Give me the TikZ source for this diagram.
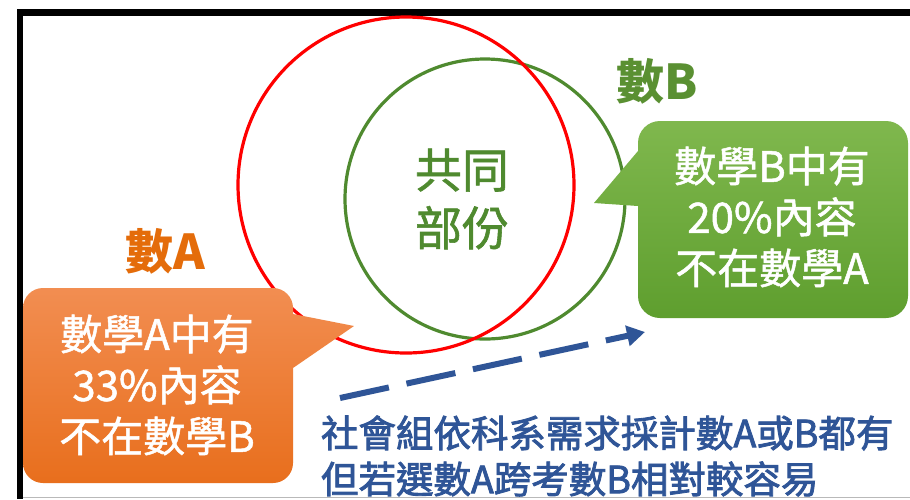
\documentclass[tikz,border=0pt]{standalone}
\usepackage{fontspec}
\newfontfamily\cjk{Noto Sans CJK TC}
\newfontfamily\cjkmed[FakeBold=1.2]{Noto Sans CJK TC}
\newfontfamily\cjksemi[FakeBold=2.2]{Noto Sans CJK TC}
\usetikzlibrary{arrows.meta}
\definecolor{redc}{HTML}{FF0000}
\definecolor{greenc}{HTML}{4F8A2F}
\definecolor{grnlbl}{HTML}{5A9032}
\definecolor{orglbl}{HTML}{E46C0A}
\definecolor{orgtop}{HTML}{F28E52}
\definecolor{orgbot}{HTML}{E86E1C}
\definecolor{grntop}{HTML}{80B84E}
\definecolor{grnbot}{HTML}{5E9E2E}
\definecolor{bluec}{HTML}{2F5597}
\tikzset{
  ring/.style={circle, draw, line width=3.2pt, inner sep=0pt},
  calltext/.style={font=\cjkmed\fontsize{42}{51}\selectfont, text=white, align=center},
  biglabel/.style={font=\cjk\bfseries\fontsize{48}{48}\selectfont},
}
\begin{document}
\begin{tikzpicture}[x=1pt,y=-1pt, every node/.style={inner sep=0pt, outer sep=0pt}]
\useasboundingbox (0,0) rectangle (910,499);
\fill[white] (0,0) rectangle (910,499);
% frame
\fill[black] (17,9) rectangle (910,16);
\fill[black] (17,9) rectangle (23,499);
\draw[gray!55, line width=1pt] (23,497.5) -- (910,497.5);

% circles
\node[ring, draw=greenc, minimum size=280pt] (cB) at (485,199) {};
\node[ring, draw=redc, minimum size=336pt] (cA) at (406,185) {};

% orange callout
\begin{scope}
\path[clip] [rounded corners=20pt] (23,288) rectangle (293,483) [sharp corners] (293,314) -- (354,326) -- (293,368) -- cycle;
\shade[top color=orgtop, bottom color=orgbot] (20,285) rectangle (356,486);
\end{scope}
% green callout
\begin{scope}
\path[clip] [rounded corners=22pt] (638,121) rectangle (908,318) [sharp corners] (638,151) -- (594,203) -- (638,206) -- cycle;
\shade[top color=grntop, bottom color=grnbot] (592,118) rectangle (910,320);
\end{scope}

% texts
\node[calltext] (ta) at (157,385) {數學A中有\\33\%內容\\不在數學B};
\node[calltext] (tb) at (772,217) {數學B中有\\20\%內容\\不在數學A};
\node[font=\cjkmed\fontsize{47}{58}\selectfont, text=greenc, align=center] (common) at (462,199) {共同\\部份};
\node[biglabel, text=grnlbl] (lb) at (657,81) {數B};
\node[biglabel, text=orglbl] (la) at (165,251) {數A};
\node[font=\cjksemi\fontsize{37.5}{46}\selectfont, text=bluec, align=left, anchor=west] (note) at (321,456) {社會組依科系需求採計數A或B都有\\但若選數A跨考數B相對較容易};

% dashed arrow
\coordinate (as) at (340,398);
\coordinate (ae) at (645,332);
\draw[bluec, line width=6pt, dash pattern=on 50pt off 18pt, -{Triangle[length=18pt,width=20pt]}] (as) -- (ae);
\end{tikzpicture}
\end{document}
